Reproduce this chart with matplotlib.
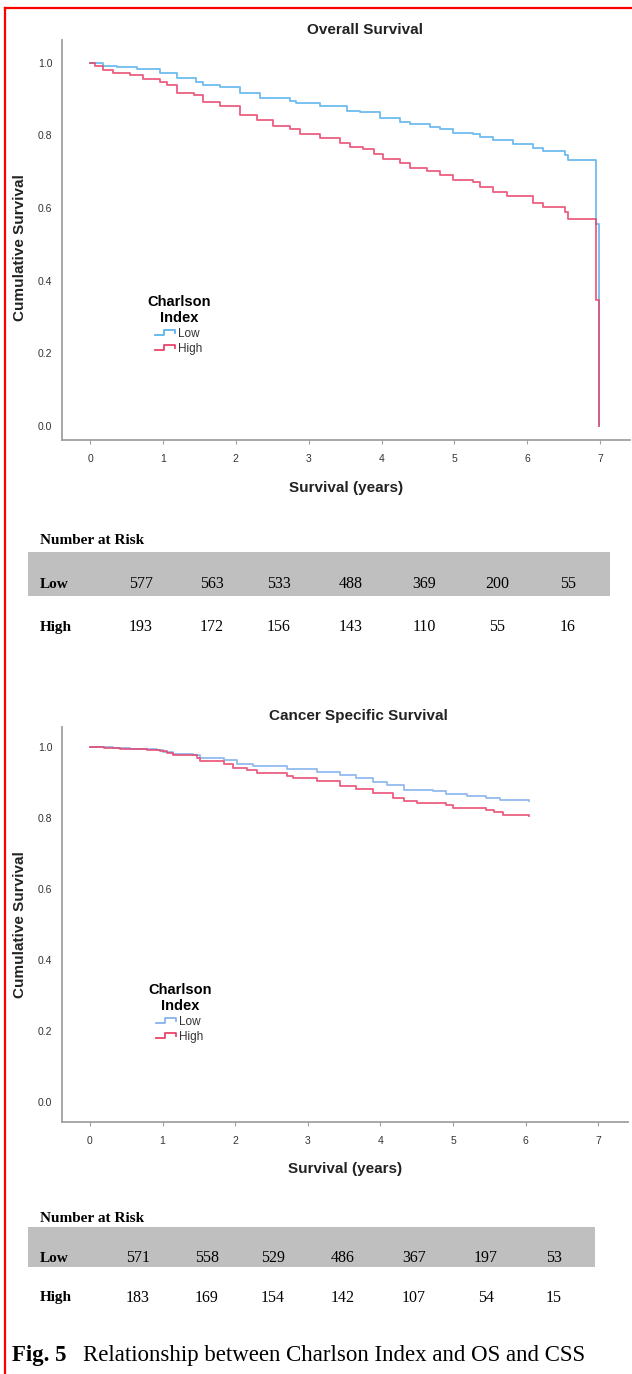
import numpy as np
import matplotlib
matplotlib.use("Agg")
import matplotlib.pyplot as plt
from matplotlib.lines import Line2D
from matplotlib.patches import Rectangle
from matplotlib.legend_handler import HandlerBase

# Overall survival, Kaplan-Meier steps (years, survival)
os_low_t = [0, 0.18, 0.37, 0.64, 0.96, 1.19, 1.46, 1.55, 1.78, 2.06, 2.33, 2.74, 2.83, 3.16, 3.52,
            3.70, 3.98, 4.25, 4.39, 4.66, 4.80, 4.98, 5.26, 5.35, 5.53, 5.81, 6.08, 6.22, 6.52, 6.56,
            6.94, 6.99]
os_low_s = [1.0, 0.992, 0.988, 0.983, 0.972, 0.958, 0.948, 0.940, 0.933, 0.917, 0.904, 0.896, 0.889,
            0.880, 0.868, 0.864, 0.848, 0.837, 0.831, 0.823, 0.817, 0.808, 0.804, 0.797, 0.788, 0.777,
            0.765, 0.758, 0.747, 0.733, 0.556, 0.0]
os_high_t = [0, 0.07, 0.18, 0.32, 0.55, 0.73, 0.96, 1.05, 1.19, 1.42, 1.55, 1.78, 2.06, 2.29, 2.51,
             2.74, 2.88, 3.16, 3.43, 3.57, 3.75, 3.89, 4.02, 4.25, 4.39, 4.62, 4.80, 4.98, 5.26, 5.35,
             5.53, 5.72, 6.08, 6.22, 6.52, 6.56, 6.94, 6.99]
os_high_s = [1.0, 0.992, 0.981, 0.972, 0.967, 0.956, 0.948, 0.939, 0.918, 0.912, 0.891, 0.882, 0.857,
             0.843, 0.826, 0.819, 0.804, 0.793, 0.779, 0.768, 0.762, 0.749, 0.736, 0.724, 0.710, 0.702,
             0.691, 0.678, 0.673, 0.659, 0.645, 0.632, 0.613, 0.604, 0.590, 0.570, 0.347, 0.0]

# Cancer specific survival
css_low_t = [0, 0.32, 0.55, 0.92, 1.01, 1.15, 1.42, 1.52, 1.84, 2.02, 2.25, 2.71, 3.12, 3.44, 3.67,
             3.90, 4.09, 4.32, 4.73, 4.91, 5.19, 5.46, 5.65, 6.04]
css_low_s = [1.0, 0.998, 0.994, 0.992, 0.987, 0.980, 0.976, 0.968, 0.963, 0.951, 0.945, 0.938, 0.929,
             0.921, 0.912, 0.902, 0.893, 0.879, 0.876, 0.867, 0.863, 0.857, 0.850, 0.848]
css_high_t = [0, 0.19, 0.41, 0.78, 0.96, 1.06, 1.15, 1.47, 1.52, 1.84, 1.97, 2.16, 2.30, 2.71, 2.80,
              3.12, 3.44, 3.67, 3.90, 4.18, 4.32, 4.50, 4.91, 5.00, 5.46, 5.56, 5.69, 6.04]
css_high_s = [1.0, 0.998, 0.994, 0.992, 0.989, 0.982, 0.976, 0.968, 0.959, 0.952, 0.940, 0.935, 0.926,
              0.919, 0.912, 0.905, 0.891, 0.882, 0.869, 0.855, 0.848, 0.841, 0.837, 0.829, 0.823,
              0.816, 0.808, 0.806]

# number at risk tables
groups = ["Low", "High"]
os_risk_low = [577, 563, 533, 488, 369, 200, 55]
os_risk_high = [193, 172, 156, 143, 110, 55, 16]
css_risk_low = [571, 558, 529, 486, 367, 197, 53]
css_risk_high = [183, 169, 154, 142, 107, 54, 15]

x_ticks = list(range(0, 8))
y_ticks = [0.0, 0.2, 0.4, 0.6, 0.8, 1.0]

W, H = 632, 1374
SANS = "Liberation Sans"
SERIF = "Liberation Serif"


def fx(px):
    return px / W


def fy(py):
    return 1 - py / H


class StepHandler(HandlerBase):
    # little stepped line like the SPSS legend
    def create_artists(self, legend, orig_handle, xdescent, ydescent, width, height, fontsize, trans):
        x0, y0 = -xdescent, -ydescent
        xs = [x0, x0 + 0.42 * width, x0 + 0.42 * width, x0 + width, x0 + width]
        ys = [y0 + 0.2 * height, y0 + 0.2 * height, y0 + 0.85 * height, y0 + 0.85 * height, y0 + 0.45 * height]
        ln = Line2D(xs, ys, color=orig_handle.get_color(), lw=orig_handle.get_linewidth(),
                    transform=trans)
        return [ln]


def km_panel(rect, title, title_xy, lo_t, lo_s, hi_t, hi_s, blue, ylim, ylab_y, leg_anchor):
    ax = fig.add_axes(rect)
    l1, = ax.step(lo_t, lo_s, where="post", color=blue, lw=1.3, alpha=0.9)
    l2, = ax.step(hi_t, hi_s, where="post", color="#e8436a", lw=1.3, alpha=0.85)
    ax.set_xlim(-0.385, 7.41)
    ax.set_ylim(*ylim)
    ax.set_xticks(x_ticks)
    ax.set_yticks(y_ticks)
    ax.set_yticklabels([f"{v:.1f}" for v in y_ticks])
    for s in ["top", "right"]:
        ax.spines[s].set_visible(False)
    for s in ["left", "bottom"]:
        ax.spines[s].set_color("#a0a0a0")
        ax.spines[s].set_linewidth(1.3)
    ax.tick_params(axis="x", length=3, width=0.8, color="#a0a0a0", pad=7, labelsize=7.5,
                   labelcolor="#333333")
    ax.tick_params(axis="y", length=0, pad=7, labelsize=7.5, labelcolor="#333333")
    for lab in ax.get_xticklabels() + ax.get_yticklabels():
        lab.set_family(SANS)
    ax.set_xlabel("Survival (years)", family=SANS, fontsize=11, weight="bold", color="#222222")
    ax.xaxis.label.set_va("center")
    ax.xaxis.set_label_coords(0.5, -0.12)
    ax.set_ylabel("Cumulative Survival", family=SANS, fontsize=11, weight="bold", color="#222222")
    ax.yaxis.label.set_va("center")
    ax.yaxis.set_label_coords(-0.0745, ylab_y)
    fig.text(title_xy[0], title_xy[1], title, family=SANS, fontsize=11, weight="bold",
             color="#222222", ha="center", va="center")
    leg = ax.legend(handles=[l1, l2], labels=groups, handler_map={Line2D: StepHandler()},
                    title="Charlson\nIndex", frameon=False, loc="upper center",
                    bbox_to_anchor=leg_anchor, handlelength=1.7, handletextpad=0.25,
                    labelspacing=0.25, prop={"family": SANS, "size": 8.5},
                    title_fontproperties={"family": SANS, "weight": "bold", "size": 10.5})
    leg.get_title().set_multialignment("center")
    for t in leg.get_texts():
        t.set_color("#333333")
    return ax


def risk_table(top_y, band, row_y, cols, low_vals, high_vals):
    fig.text(fx(40), fy(top_y), "Number at Risk", family=SERIF, weight="bold", fontsize=11,
             ha="left", va="center")
    x0, x1, y0, y1 = band
    fig.patches.append(Rectangle((fx(x0), fy(y1)), fx(x1) - fx(x0), fy(y0) - fy(y1),
                                 transform=fig.transFigure, facecolor="#bfbfbf",
                                 edgecolor="none", zorder=0))
    for g, vals, yy in zip(groups, [low_vals, high_vals], row_y):
        fig.text(fx(40), fy(yy), g, family=SERIF, weight="bold", fontsize=11, ha="left", va="center")
        for cx, v in zip(cols, vals):
            fig.text(fx(cx), fy(yy), str(v), family=SERIF, fontsize=11.5, ha="center", va="center")


fig = plt.figure(figsize=(W / 100, H / 100), dpi=100)
fig.patch.set_facecolor("white")

km_panel([fx(62), fy(440), fx(630) - fx(62), fy(40) - fy(440)], "Overall Survival",
         (fx(365), fy(30)), os_low_t, os_low_s, os_high_t, os_high_s, "#5db4ee",
         (-0.0386, 1.063), 0.48, (0.206, 0.39))
risk_table(541, (28, 610, 552, 596), (584, 627), [141, 212, 279, 351, 424, 497, 568],
           os_risk_low, os_risk_high)

km_panel([fx(62), fy(1122), fx(628) - fx(62), fy(727) - fy(1122)], "Cancer Specific Survival",
         (fx(358), fy(716)), css_low_t, css_low_s, css_high_t, css_high_s, "#86b3ee",
         (-0.056, 1.056), 0.5, (0.208, 0.38))
risk_table(1219, (28, 595, 1227, 1267), (1258, 1298), [138, 207, 273, 343, 414, 486, 554],
           css_risk_low, css_risk_high)

fig.text(fx(12), fy(1356), "Fig. 5", family=SERIF, weight="bold", fontsize=16.5, ha="left", va="center")
fig.text(fx(83), fy(1356), "Relationship between Charlson Index and OS and CSS", family=SERIF,
         fontsize=16.5, ha="left", va="center")

# red frame (top and left edges)
fig.lines.append(Line2D([fx(5), 1.0], [fy(8), fy(8)], transform=fig.transFigure, color="#ff0000", lw=1.6))
fig.lines.append(Line2D([fx(5), fx(5)], [fy(8), 0.0], transform=fig.transFigure, color="#ff0000", lw=1.6))

fig.savefig("out.png", dpi=100)
